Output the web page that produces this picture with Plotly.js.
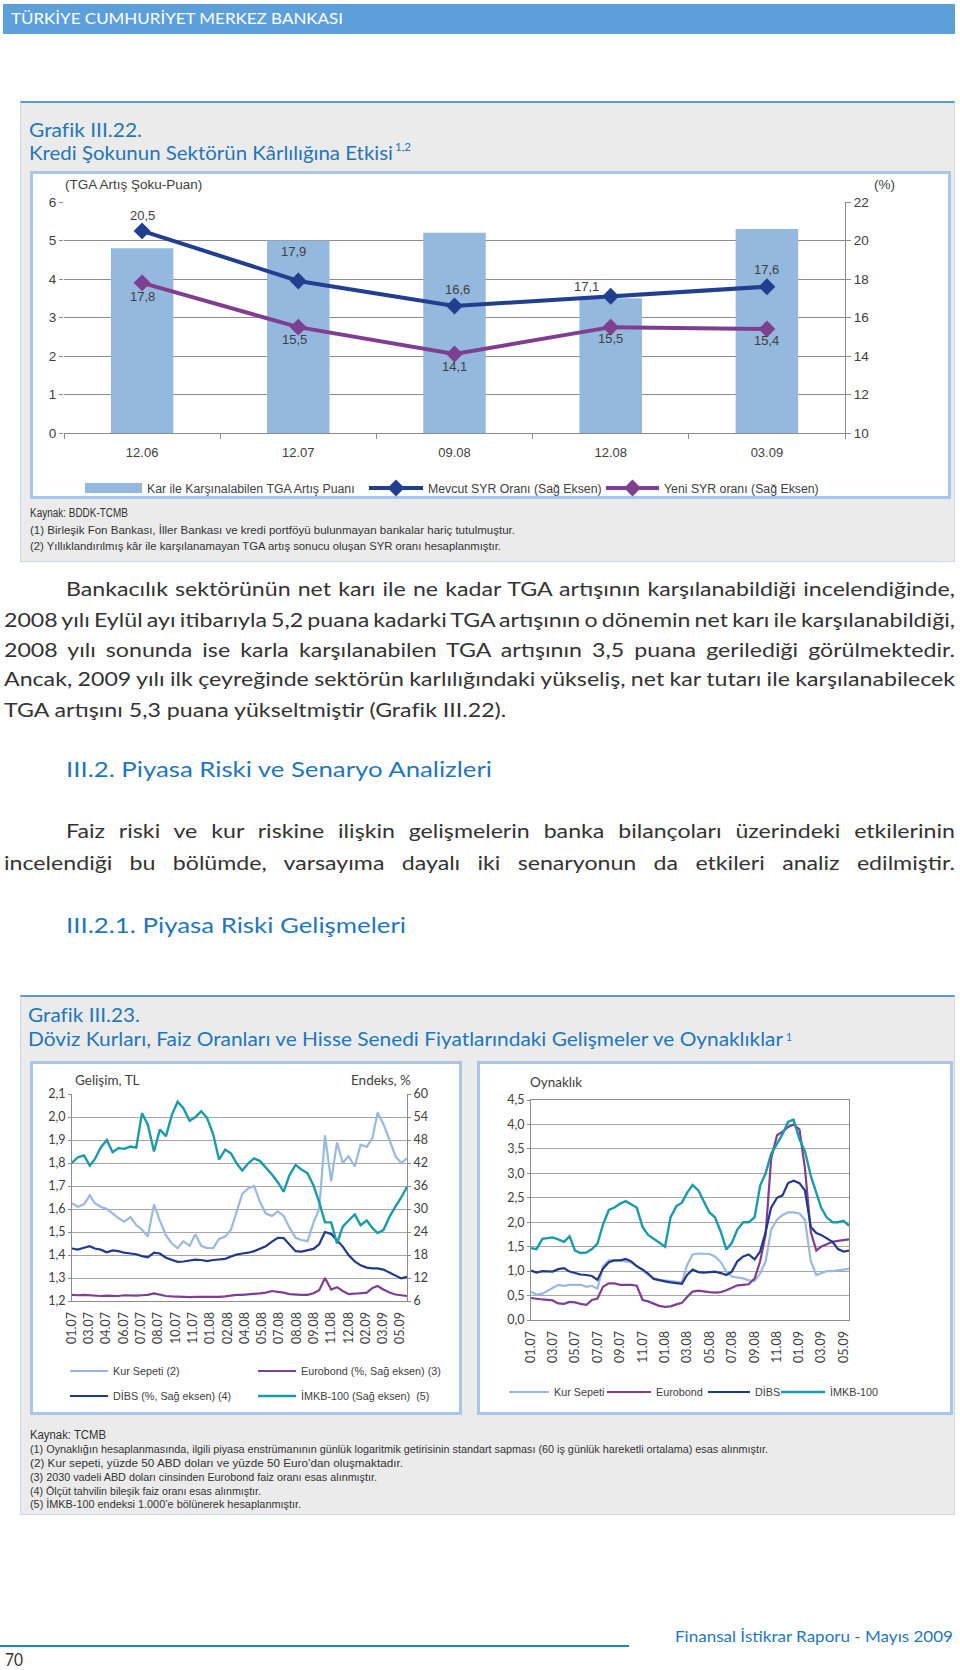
<!DOCTYPE html>
<html lang="tr">
<head>
<meta charset="utf-8">
<title>Grafik III.22 – III.23</title>
<script src="https://cdn.plot.ly/plotly-3.0.1.min.js"></script>
<style>
  html, body { margin:0; padding:0; background:#ffffff; }
  body { position:relative; width:960px; height:1670px; overflow:hidden; }
  .box { position:absolute; box-sizing:border-box; }
  .gray { background:#ebebeb; border:1px solid #c9d7e8; border-top:2px solid #5b9bd5; }
  .white { background:#ffffff; border:3px solid #a9c6e8; }
  .ln { position:absolute; white-space:nowrap; }
  .chart { position:absolute; }
</style>
</head>
<body>
<div class="box" style="left:3px;top:4px;width:952px;height:30px;background:#5d9fd9;"></div>
<div class="box gray" style="left:20px;top:101px;width:935px;height:461px;"></div>
<div class="box white" style="left:30px;top:171px;width:921px;height:328px;"></div>
<div class="box gray" style="left:20px;top:995px;width:935px;height:520px;"></div>
<div class="box white" style="left:30px;top:1061px;width:432px;height:354px;"></div>
<div class="box white" style="left:477px;top:1061px;width:476px;height:354px;"></div>
<div class="box" style="left:0px;top:1645px;width:629px;height:2px;background:#2a7fc1;"></div>
<div id="chartTop" class="chart" style="left:30px;top:171px;"></div>
<div id="chartLevels" class="chart" style="left:30px;top:1061px;"></div>
<div id="chartVol" class="chart" style="left:477px;top:1061px;"></div>
<script>
// ---------------- DATA ----------------
// Grafik III.22
const topCategories = ['12.06', '12.07', '09.08', '12.08', '03.09'];
const tgaCoveredPoints = [4.8, 5.0, 5.2, 3.5, 5.3];
const currentCarRatio = [20.5, 17.9, 16.6, 17.1, 17.6];
const newCarRatio = [17.8, 15.5, 14.1, 15.5, 15.4];
const topSeriesNames = ['Kar ile Karşınalabilen TGA Artış Puanı', 'Mevcut SYR Oranı (Sağ Eksen)', 'Yeni SYR oranı (Sağ Eksen)'];

// Grafik III.23 – half-monthly readings, Jan 2007 – mid May 2009
const kurSepeti = [1.625,1.61,1.62,1.66,1.625,1.61,1.6,1.58,1.56,1.545,1.565,1.53,1.51,1.48,1.62,1.55,1.485,1.45,1.43,1.46,1.44,1.49,1.44,1.43,1.43,1.47,1.48,1.51,1.59,1.665,1.69,1.7,1.63,1.58,1.57,1.59,1.57,1.52,1.475,1.465,1.46,1.54,1.6,1.92,1.72,1.89,1.8,1.83,1.785,1.88,1.87,1.91,2.02,1.97,1.9,1.83,1.8,1.82];
const eurobond = [7.6,7.5,7.6,7.5,7.4,7.3,7.4,7.4,7.3,7.5,7.4,7.4,7.5,7.6,8.0,7.6,7.3,7.2,7.1,7.0,7.0,7.1,7.1,7.0,7.1,7.1,7.2,7.4,7.6,7.6,7.7,7.9,8.0,8.2,8.6,8.4,8.2,7.8,7.6,7.6,7.6,8.0,8.8,12.0,9.0,9.6,8.6,7.8,7.9,8.0,8.2,9.4,9.9,9.0,8.2,7.7,7.5,7.3];
const dibs = [19.7,19.4,19.9,20.3,19.7,19.4,18.7,19.2,19,18.6,18.4,18.2,17.7,17.4,18.6,18.4,17.3,16.7,16.2,16.3,16.6,16.8,16.7,16.4,16.7,16.8,17,17.6,18.1,18.4,18.6,19,19.7,20.3,21.5,22.5,22.4,20.7,19,18.9,19.3,19.6,20.8,24,23.5,21.7,20.2,18,16.3,15.3,14.7,14.5,14.5,14.2,13.4,12.6,11.9,12.3];
const imkb100 = [42,43.5,44,41.3,43,46,48,44.8,45.9,45.7,46.3,46,55,52,45,50.7,49,54.5,58,56.3,53,54,55.5,53.8,49.5,42.9,45.5,44.5,42,40,42,43.2,42.5,40.8,39,37,34.5,38.8,41.5,40.3,39.3,36.2,31.8,26.5,26.5,21,25.4,27,28.6,25.8,27,25,23.7,24.5,28,30.6,33,35.8];
const volKurSepeti = [0.58,0.52,0.54,0.6,0.66,0.72,0.7,0.72,0.72,0.72,0.68,0.7,0.64,1.1,1.22,1.22,1.22,1.2,1.18,1.1,1.02,0.92,0.86,0.82,0.81,0.79,0.78,0.77,1.12,1.34,1.36,1.36,1.35,1.3,1.18,0.99,0.89,0.87,0.85,0.81,0.8,0.95,1.2,1.85,2.05,2.15,2.2,2.2,2.18,2.05,1.2,0.92,0.95,1.0,1.0,1.01,1.03,1.05];
const volEurobond = [0.45,0.43,0.42,0.41,0.4,0.34,0.33,0.37,0.36,0.33,0.31,0.41,0.44,0.68,0.75,0.75,0.72,0.72,0.72,0.7,0.41,0.38,0.33,0.29,0.27,0.28,0.32,0.35,0.47,0.58,0.6,0.58,0.57,0.56,0.57,0.61,0.66,0.71,0.72,0.73,0.85,1.2,1.75,3.3,3.78,3.85,3.95,4.0,3.9,3.1,1.8,1.42,1.5,1.55,1.6,1.62,1.63,1.65];
const volDibs = [1.01,0.97,1.0,1.0,0.99,1.04,1.06,0.99,0.96,0.93,0.92,0.9,0.82,1.05,1.18,1.22,1.22,1.25,1.2,1.1,1.03,0.95,0.84,0.81,0.79,0.77,0.76,0.74,0.92,1.03,0.98,0.97,0.98,0.99,0.96,0.92,0.99,1.2,1.3,1.34,1.24,1.4,1.8,2.3,2.5,2.55,2.8,2.85,2.8,2.65,1.9,1.78,1.74,1.68,1.6,1.45,1.4,1.42];
const volImkb = [1.47,1.45,1.66,1.68,1.69,1.65,1.6,1.71,1.42,1.37,1.38,1.45,1.56,1.95,2.25,2.3,2.38,2.43,2.36,2.3,1.9,1.74,1.66,1.58,1.5,2.1,2.33,2.4,2.6,2.76,2.65,2.42,2.2,2.1,1.8,1.44,1.58,1.85,2.0,2.0,2.1,2.75,3.0,3.4,3.6,3.8,4.05,4.1,3.7,3.45,2.95,2.6,2.3,2.1,2.0,2.0,2.03,1.93];
const levelTickLabels = ['01.07','03.07','04.07','06.07','07.07','08.07','10.07','11.07','01.08','02.08','04.08','05.08','07.08','08.08','09.08','11.08','12.08','02.09','03.09','05.09'];
const volTickLabels = ['01.07','03.07','05.07','07.07','09.07','11.07','01.08','03.08','05.08','07.08','09.08','11.08','01.09','03.09','05.09'];
const levelSeriesNames = ['Kur Sepeti (2)', 'Eurobond (%, Sağ eksen) (3)', 'DİBS (%, Sağ eksen) (4)', 'İMKB-100 (Sağ eksen)  (5)'];
const volSeriesNames = ['Kur Sepeti', 'Eurobond', 'DİBS', 'İMKB-100'];

// observation dates: 1st and 16th of each month
const obsDates = [];
for (let y = 2007; y <= 2009; y++) {
  for (let m = 1; m <= 12; m++) {
    for (const d of [1, 16]) {
      if (obsDates.length < kurSepeti.length) obsDates.push(y + '-' + String(m).padStart(2, '0') + '-' + String(d).padStart(2, '0'));
    }
  }
}

// ---------------- STYLE ----------------
const SANS = 'Lato, "Noto Sans", "DejaVu Sans", sans-serif';
const NARROW = '"Liberation Sans Narrow", "Liberation Sans", Arial, sans-serif';
const TXT = '#404040';
const GRID = '#8c8c8c';
const BLUE = '#1f77b9';
const C_KUR = '#9bb9dd', C_EURO = '#7e3f93', C_DIBS = '#203a88', C_IMKB = '#1b9ba8';

function geom(x0, x1, y0, y1) {
  return { px: p => (p - x0) / (x1 - x0), py: p => (y1 - p) / (y1 - y0) };
}
function fmt(v) { return v.toFixed(1).replace('.', ','); }
const cfg = { staticPlot: true, displayModeBar: false };
const noBg = 'rgba(0,0,0,0)';

// ---------------- CHART III.22 ----------------
(function () {
  const g = geom(64, 845, 202, 433);
  const lblFont = { family: NARROW, size: 13, color: TXT };
  const curShift = [[0, 15], [-5, 29], [3, 16], [-24, 10], [0, 17]];
  const newShift = [[0, -14], [-4, -12], [0, -12], [0, -11], [0, -11]];
  const ann = [];
  currentCarRatio.forEach((v, i) => ann.push({ x: i, y: v, yref: 'y2', xref: 'x', text: fmt(v), showarrow: false, xshift: curShift[i][0], yshift: curShift[i][1], font: lblFont }));
  newCarRatio.forEach((v, i) => ann.push({ x: i, y: v, yref: 'y2', xref: 'x', text: fmt(v), showarrow: false, xshift: newShift[i][0], yshift: newShift[i][1], font: lblFont }));
  ann.push({ xref: 'paper', yref: 'paper', x: g.px(63), y: g.py(185), xanchor: 'left', yanchor: 'middle', text: '(TGA Artış Şoku-Puan)', showarrow: false, font: { family: NARROW, size: 13.5, color: TXT } });
  ann.push({ xref: 'paper', yref: 'paper', x: g.px(872), y: g.py(185), xanchor: 'left', yanchor: 'middle', text: '(%)', showarrow: false, font: { family: NARROW, size: 13.5, color: TXT } });

  const traces = [
    { type: 'bar', x: topCategories, y: tgaCoveredPoints, width: 0.4, marker: { color: '#95b8de' }, showlegend: false, hoverinfo: 'skip' },
    { type: 'scatter', mode: 'lines', x: [topCategories[0]], y: [null], name: topSeriesNames[0], line: { color: '#95b8de', width: 12 }, legend: 'legend2' },
    { type: 'scatter', mode: 'lines+markers', x: topCategories, y: currentCarRatio, yaxis: 'y2', name: topSeriesNames[1], line: { color: '#213f8e', width: 4 }, marker: { symbol: 'diamond', size: 13, color: '#213f8e' }, legend: 'legend3' },
    { type: 'scatter', mode: 'lines+markers', x: topCategories, y: newCarRatio, yaxis: 'y2', name: topSeriesNames[2], line: { color: '#7f3f90', width: 4 }, marker: { symbol: 'diamond', size: 13, color: '#7f3f90' }, legend: 'legend4' }
  ];
  const lg = (x, w) => ({ x: g.px(x - 5), y: g.py(488), xanchor: 'left', yanchor: 'middle', orientation: 'h', itemwidth: w, bgcolor: noBg, font: { family: NARROW, size: 12.3, color: TXT } });
  const layout = {
    width: 921, height: 328, margin: { l: 34, r: 106, t: 31, b: 66, autoexpand: false },
    paper_bgcolor: noBg, plot_bgcolor: noBg, showlegend: true,
    font: { family: NARROW, size: 13, color: TXT },
    xaxis: { type: 'category', range: [-0.5, topCategories.length - 0.5], tickson: 'boundaries', ticks: 'outside', ticklen: 5, tickcolor: GRID, showline: true, linecolor: GRID, showgrid: false, ticklabelstandoff: 7, tickfont: { family: NARROW, size: 13, color: TXT } },
    yaxis: { range: [0, 6], dtick: 1, showgrid: true, gridcolor: GRID, zeroline: false, ticks: 'outside', ticklen: 4, tickcolor: GRID, showline: false, tickfont: { family: NARROW, size: 13.5, color: TXT } },
    yaxis2: { overlaying: 'y', side: 'right', range: [10, 22], dtick: 2, showgrid: false, zeroline: false, showline: true, linecolor: GRID, ticks: 'outside', ticklen: 5, tickcolor: GRID, tickfont: { family: NARROW, size: 13.5, color: TXT } },
    legend2: lg(85, 57), legend3: lg(369, 54), legend4: lg(606, 53),
    annotations: ann
  };
  Plotly.newPlot('chartTop', traces, layout, cfg);
})();

// ---------------- CHART III.23 left: levels ----------------
(function () {
  const g = geom(72, 407, 1094, 1301);
  const t0 = Date.UTC(2007, 0, 1);
  const tickvals = levelTickLabels.map((_, i) => new Date(t0 + i * 44.7 * 864e5).toISOString().slice(0, 10));
  const tf = { family: SANS, size: 12.5, color: TXT };
  const traces = [
    { type: 'scatter', mode: 'lines', x: obsDates, y: kurSepeti, name: levelSeriesNames[0], line: { color: C_KUR, width: 2.2 }, legend: 'legend2' },
    { type: 'scatter', mode: 'lines', x: obsDates, y: eurobond, yaxis: 'y2', name: levelSeriesNames[1], line: { color: C_EURO, width: 2.2 }, legend: 'legend3' },
    { type: 'scatter', mode: 'lines', x: obsDates, y: dibs, yaxis: 'y2', name: levelSeriesNames[2], line: { color: C_DIBS, width: 2.2 }, legend: 'legend4' },
    { type: 'scatter', mode: 'lines', x: obsDates, y: imkb100, yaxis: 'y2', name: levelSeriesNames[3], line: { color: C_IMKB, width: 2.4 }, legend: 'legend5' }
  ];
  const lg = (x, y) => ({ x: g.px(x - 5), y: g.py(y), xanchor: 'left', yanchor: 'middle', orientation: 'h', itemwidth: 38, bgcolor: noBg, font: { family: NARROW, size: 10.8, color: TXT } });
  const layout = {
    width: 432, height: 354, margin: { l: 42, r: 55, t: 33, b: 114, autoexpand: false },
    paper_bgcolor: noBg, plot_bgcolor: noBg, separators: ',.', showlegend: true,
    font: { family: SANS, size: 12.5, color: TXT },
    xaxis: { type: 'date', range: [obsDates[0], obsDates[obsDates.length - 1]], tickmode: 'array', tickvals: tickvals, ticktext: levelTickLabels, tickangle: -90, showgrid: false, showline: true, linecolor: GRID, ticks: '', ticklabelstandoff: 5, tickfont: tf },
    yaxis: { range: [1.2, 2.1], dtick: 0.1, tickformat: '.1f', showgrid: true, gridcolor: '#a6a6a6', zeroline: false, showline: true, linecolor: GRID, ticks: 'outside', ticklen: 3, tickcolor: GRID, tickfont: tf },
    yaxis2: { overlaying: 'y', side: 'right', range: [6, 60], dtick: 6, showgrid: false, zeroline: false, showline: true, linecolor: GRID, ticks: 'outside', ticklen: 3, tickcolor: GRID, tickfont: tf },
    legend2: lg(70, 1371), legend3: lg(258, 1371), legend4: lg(70, 1396), legend5: lg(258, 1396),
    annotations: [
      { xref: 'paper', yref: 'paper', x: g.px(73), y: g.py(1080), xanchor: 'left', yanchor: 'middle', text: 'Gelişim, TL', showarrow: false, font: { family: SANS, size: 13.5, color: TXT } },
      { xref: 'paper', yref: 'paper', x: g.px(413), y: g.py(1080), xanchor: 'right', yanchor: 'middle', text: 'Endeks, %', showarrow: false, font: { family: SANS, size: 13.5, color: TXT } }
    ]
  };
  Plotly.newPlot('chartLevels', traces, layout, cfg);
})();

// ---------------- CHART III.23 right: volatilities ----------------
(function () {
  const g = geom(531, 849, 1100, 1320);
  const tickvals = volTickLabels.map(s => '20' + s.slice(3) + '-' + s.slice(0, 2) + '-01');
  const tf = { family: SANS, size: 12.5, color: TXT };
  const traces = [
    { type: 'scatter', mode: 'lines', x: obsDates, y: volKurSepeti, name: volSeriesNames[0], line: { color: C_KUR, width: 2.2 }, legend: 'legend2' },
    { type: 'scatter', mode: 'lines', x: obsDates, y: volEurobond, name: volSeriesNames[1], line: { color: C_EURO, width: 2.2 }, legend: 'legend3' },
    { type: 'scatter', mode: 'lines', x: obsDates, y: volDibs, name: volSeriesNames[2], line: { color: C_DIBS, width: 2.2 }, legend: 'legend4' },
    { type: 'scatter', mode: 'lines', x: obsDates, y: volImkb, name: volSeriesNames[3], line: { color: C_IMKB, width: 2.4 }, legend: 'legend5' }
  ];
  const lg = (x, w) => ({ x: g.px(x - 5), y: g.py(1392), xanchor: 'left', yanchor: 'middle', orientation: 'h', itemwidth: w, bgcolor: noBg, font: { family: NARROW, size: 10.8, color: TXT } });
  const layout = {
    width: 476, height: 354, margin: { l: 54, r: 104, t: 39, b: 95, autoexpand: false },
    paper_bgcolor: noBg, plot_bgcolor: noBg, separators: ',.', showlegend: true,
    font: { family: SANS, size: 12.5, color: TXT },
    xaxis: { type: 'date', range: [obsDates[0], obsDates[obsDates.length - 1]], tickmode: 'array', tickvals: tickvals, ticktext: volTickLabels, tickangle: -90, showgrid: false, showline: true, mirror: true, linecolor: GRID, ticks: '', ticklabelstandoff: 5, tickfont: tf },
    yaxis: { range: [0, 4.5], dtick: 0.5, tickformat: '.1f', showgrid: true, gridcolor: '#a6a6a6', zeroline: false, showline: true, mirror: true, linecolor: GRID, ticks: 'outside', ticklen: 3, tickcolor: GRID, tickfont: tf },
    legend2: lg(509, 40), legend3: lg(607, 44), legend4: lg(708, 42), legend5: lg(781, 44),
    annotations: [
      { xref: 'paper', yref: 'paper', x: g.px(528), y: g.py(1082), xanchor: 'left', yanchor: 'middle', text: 'Oynaklık', showarrow: false, font: { family: SANS, size: 13.5, color: TXT } }
    ]
  };
  Plotly.newPlot('chartVol', traces, layout, cfg);
})();

// ---------------- PAGE TEXT ----------------
const para1 = [
  'Bankacılık sektörünün net karı ile ne kadar TGA artışının karşılanabildiği incelendiğinde,',
  '2008 yılı Eylül ayı itibarıyla 5,2 puana kadarki TGA artışının o dönemin net karı ile karşılanabildiği,',
  '2008 yılı sonunda ise karla karşılanabilen TGA artışının 3,5 puana gerilediği görülmektedir.',
  'Ancak, 2009 yılı ilk çeyreğinde sektörün karlılığındaki yükseliş, net kar tutarı ile karşılanabilecek',
  'TGA artışını 5,3 puana yükseltmiştir (Grafik III.22).'
];
const para2 = [
  'Faiz riski ve kur riskine ilişkin gelişmelerin banka bilançoları üzerindeki etkilerinin',
  'incelendiği bu bölümde, varsayıma dayalı iki senaryonun da etkileri analiz edilmiştir.'
];

function place(t, x, cy, size, color, family) {
  const el = document.createElement('div');
  el.className = 'ln';
  el.textContent = t;
  const lh = Math.round(size * 1.2);
  el.style.left = x + 'px';
  el.style.top = (cy - lh / 2) + 'px';
  el.style.fontSize = size + 'px';
  el.style.lineHeight = lh + 'px';
  el.style.color = color;
  el.style.fontFamily = family;
  el.style.transformOrigin = '0 50%';
  document.body.appendChild(el);
  return el;
}
function fitScale(el, w) {
  const nat = el.getBoundingClientRect().width;
  el.style.transform = 'scaleX(' + (w / nat) + ')';
}

const singles = [
  ['TÜRKİYE CUMHURİYET MERKEZ BANKASI', 11, 18.5, 15.5, '#ffffff', SANS, 332],
  ['Grafik III.22.', 29, 129, 19.5, BLUE, SANS, 113],
  ['Kredi Şokunun Sektörün Kârlılığına Etkisi', 29, 152, 19.5, BLUE, SANS, 364],
  ['1,2', 395, 147, 11.5, BLUE, SANS, 0],
  ['Kaynak: BDDK-TCMB', 30, 513, 12, '#333333', NARROW, 98],
  ['(1) Birleşik Fon Bankası, İller Bankası ve kredi portföyü bulunmayan bankalar hariç tutulmuştur.', 30, 530, 10.5, '#333333', NARROW, 485],
  ['(2) Yıllıklandırılmış kâr ile karşılanamayan TGA artış sonucu oluşan SYR oranı hesaplanmıştır.', 30, 546, 10.5, '#333333', NARROW, 471],
  ['III.2. Piyasa Riski ve Senaryo Analizleri', 66, 768, 21, BLUE, SANS, 426],
  ['III.2.1. Piyasa Riski Gelişmeleri', 66, 924, 21, BLUE, SANS, 340],
  ['Grafik III.23.', 28, 1014.5, 18.5, BLUE, SANS, 112],
  ['Döviz Kurları, Faiz Oranları ve Hisse Senedi Fiyatlarındaki Gelişmeler ve Oynaklıklar', 28, 1038.5, 18.5, BLUE, SANS, 755],
  ['1', 786, 1037, 10.5, BLUE, SANS, 0],
  ['Kaynak: TCMB', 30, 1435, 12, '#333333', NARROW, 76],
  ['(1) Oynaklığın hesaplanmasında, ilgili piyasa enstrümanının günlük logaritmik getirisinin standart sapması (60 iş günlük hareketli ortalama) esas alınmıştır.', 30, 1449, 10.5, '#333333', NARROW, 738],
  ['(2) Kur sepeti, yüzde 50 ABD doları ve yüzde 50 Euro\u2019dan oluşmaktadır.', 30, 1463, 10.5, '#333333', NARROW, 373],
  ['(3) 2030 vadeli ABD doları cinsinden Eurobond faiz oranı esas alınmıştır.', 30, 1477, 10.5, '#333333', NARROW, 347],
  ['(4) Ölçüt tahvilin bileşik faiz oranı esas alınmıştır.', 30, 1491, 10.5, '#333333', NARROW, 231],
  ['(5) İMKB-100 endeksi 1.000\u2019e bölünerek hesaplanmıştır.', 30, 1504, 10.5, '#333333', NARROW, 271],
  ['Finansal İstikrar Raporu - Mayıs 2009', 675, 1635, 16, BLUE, SANS, 278],
  ['70', 5, 1659, 18, '#333333', SANS, 18]
];
singles.forEach(s => {
  const el = place(s[0], s[1], s[2], s[3], s[4], s[5]);
  if (s[6]) fitScale(el, s[6]);
});

// paragraphs: one common horizontal scale, lines justified by word spacing
const pSize = 19.5, pColor = '#333333';
const pSpec = [
  [para1[0], 66, 588, 889], [para1[1], 4, 619, 951], [para1[2], 4, 649, 951], [para1[3], 4, 678, 951], [para1[4], 4, 709, 0],
  [para2[0], 66, 830, 889], [para2[1], 4, 862, 951]
];
const pEls = pSpec.map(s => place(s[0], s[1], s[2], pSize, pColor, SANS));
const nats = pEls.map(el => el.getBoundingClientRect().width);
const spaces = pSpec.map(s => (s[0].match(/ /g) || []).length);
let scale = 535 / nats[4];
pSpec.forEach((s, i) => { if (s[3]) scale = Math.min(scale, s[3] / (nats[i] - 1.5 * spaces[i])); });
pEls.forEach((el, i) => {
  if (pSpec[i][3]) el.style.wordSpacing = ((pSpec[i][3] / scale - nats[i]) / spaces[i]) + 'px';
  el.style.transform = 'scaleX(' + scale + ')';
});
</script>
</body>
</html>
